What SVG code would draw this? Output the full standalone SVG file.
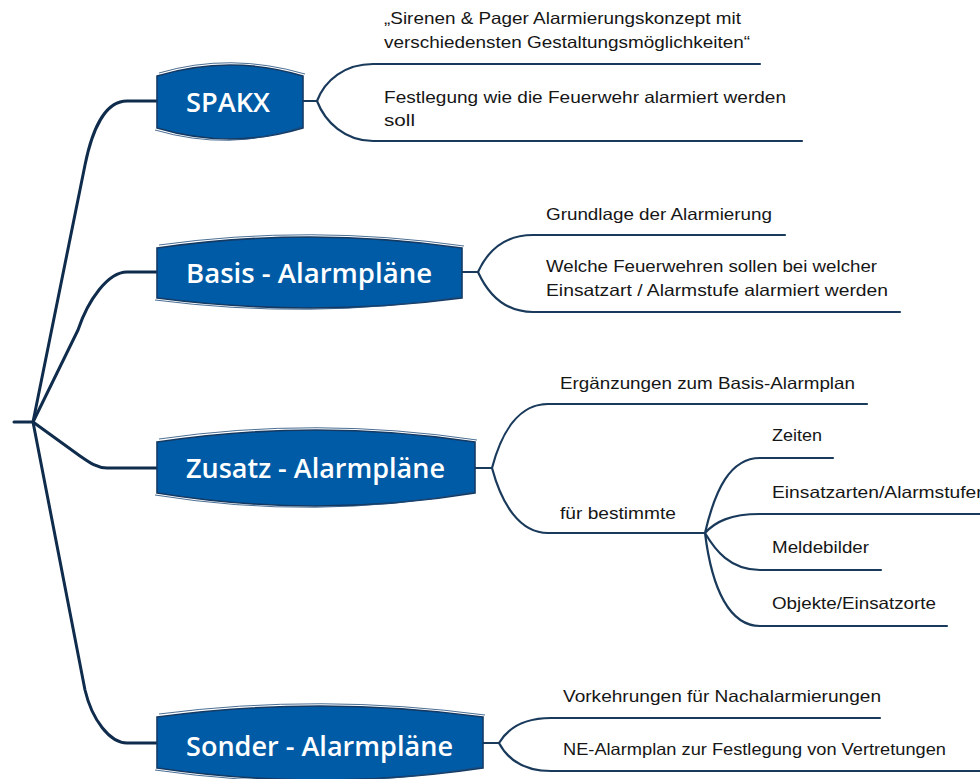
<svg xmlns="http://www.w3.org/2000/svg" width="980" height="779" viewBox="0 0 980 779">
<style>
.bg{fill:#ffffff}
.main{fill:none;stroke:#0f2c4c;stroke-width:3;stroke-linecap:round;stroke-linejoin:round}
.sub{fill:none;stroke:#1a3a5c;stroke-width:2.2;stroke-linecap:round;stroke-linejoin:round}
.node{fill:#005ba6;stroke:#143a64;stroke-width:1.6}
.sketch{fill:none;stroke:#1e4a78;stroke-width:1;opacity:0.8}
.nt{font-family:"Open Sans","Liberation Sans","DejaVu Sans",sans-serif;font-size:27px;fill:#ffffff;font-weight:600}
.ct{font-family:"Liberation Sans","DejaVu Sans",sans-serif;font-size:16.5px;fill:#161616}
</style>
<rect class="bg" x="0" y="0" width="980" height="779"/>
<g id="connectors">
<path class="main" d="M14,422 L33,422"/>
<path class="main" d="M33,422 L85,165 C92,130 105,101 127,101 L157,101"/>
<path class="main" d="M33,422 L78,330 C88,300 108,272 127,272 L157,272"/>
<path class="main" d="M33,422 L80,456 C90,463 97,468 107,468 L157,468"/>
<path class="main" d="M33,422 L85,690 C92,720 110,743 127,743 L157,743"/>
<path class="sub" d="M302,101 L317,101 M317,101 C325,80 345,64 373,64 L760,64 M317,101 C325,122 345,141 373,141 L802,141"/>
<path class="sub" d="M462,272 L478,272 M478,272 C488,250 505,235 533,235 L785,235 M478,272 C488,294 505,312 533,312 L900,312"/>
<path class="sub" d="M475,468 L492,468 M492,468 C502,430 520,404 548,404 L867,404 M492,468 C502,505 520,533 548,533 L705,533"/>
<path class="sub" d="M705,533 C715,490 730,458 760,458 L833,458 M705,533 C715,522 730,514 760,514 L980,514 M705,533 C715,550 730,570 760,570 L881,570 M705,533 C712,590 730,626 760,626 L947,626"/>
<path class="sub" d="M483,743 L499,743 M499,743 C508,728 525,718 551,718 L880,718 M499,743 C508,760 525,771 551,771 L980,771"/>
</g>
<g id="node-spakx">
<path class="node" d="M157,76 Q230,54 303,76 L303,128 Q230,150 157,128 Z"/>
<path class="sketch" d="M159,73 Q230,52 305,74 M155,130 Q230,152 301,127"/>
<text class="nt" x="186" y="112" textLength="84" lengthAdjust="spacingAndGlyphs">SPAKX</text>
</g>
<g id="node-basis">
<path class="node" d="M157,248 Q310,226 462,248 L462,298 Q310,318 157,298 Z"/>
<path class="sketch" d="M159,245 Q310,224 464,246 M155,300 Q310,320 460,297"/>
<text class="nt" x="186" y="283" textLength="246" lengthAdjust="spacingAndGlyphs">Basis - Alarmpläne</text>
</g>
<g id="node-zusatz">
<path class="node" d="M157,442 Q316,418 475,442 L475,493 Q316,519 157,493 Z"/>
<path class="sketch" d="M159,439 Q316,416 477,440 M155,495 Q316,521 473,492"/>
<text class="nt" x="186" y="478" textLength="259" lengthAdjust="spacingAndGlyphs">Zusatz - Alarmpläne</text>
</g>
<g id="node-sonder">
<path class="node" d="M157,717 Q320,695 483,717 L483,768 Q320,792 157,768 Z"/>
<path class="sketch" d="M159,714 Q320,693 485,715 M155,770 Q320,794 481,767"/>
<text class="nt" x="186" y="756" textLength="267" lengthAdjust="spacingAndGlyphs">Sonder - Alarmpläne</text>
</g>
<g id="texts-spakx">
<text class="ct" x="384" y="24" textLength="357" lengthAdjust="spacingAndGlyphs">„Sirenen &amp; Pager Alarmierungskonzept mit</text>
<text class="ct" x="384" y="48" textLength="366" lengthAdjust="spacingAndGlyphs">verschiedensten Gestaltungsmöglichkeiten“</text>
<text class="ct" x="384" y="103" textLength="402" lengthAdjust="spacingAndGlyphs">Festlegung wie die Feuerwehr alarmiert werden</text>
<text class="ct" x="384" y="126" textLength="31" lengthAdjust="spacingAndGlyphs">soll</text>
</g>
<g id="texts-basis">
<text class="ct" x="546" y="220" textLength="226" lengthAdjust="spacingAndGlyphs">Grundlage der Alarmierung</text>
<text class="ct" x="546" y="272" textLength="331" lengthAdjust="spacingAndGlyphs">Welche Feuerwehren sollen bei welcher</text>
<text class="ct" x="546" y="296" textLength="342" lengthAdjust="spacingAndGlyphs">Einsatzart / Alarmstufe alarmiert werden</text>
</g>
<g id="texts-zusatz">
<text class="ct" x="560" y="389" textLength="295" lengthAdjust="spacingAndGlyphs">Ergänzungen zum Basis-Alarmplan</text>
<text class="ct" x="560" y="519" textLength="116" lengthAdjust="spacingAndGlyphs">für bestimmte</text>
<text class="ct" x="772" y="441" textLength="50" lengthAdjust="spacingAndGlyphs">Zeiten</text>
<text class="ct" x="772" y="498" textLength="215" lengthAdjust="spacingAndGlyphs">Einsatzarten/Alarmstufen</text>
<text class="ct" x="772" y="553" textLength="97" lengthAdjust="spacingAndGlyphs">Meldebilder</text>
<text class="ct" x="772" y="609" textLength="164" lengthAdjust="spacingAndGlyphs">Objekte/Einsatzorte</text>
</g>
<g id="texts-sonder">
<text class="ct" x="563" y="702" textLength="318" lengthAdjust="spacingAndGlyphs">Vorkehrungen für Nachalarmierungen</text>
<text class="ct" x="563" y="755" textLength="383" lengthAdjust="spacingAndGlyphs">NE-Alarmplan zur Festlegung von Vertretungen</text>
</g>
</svg>
